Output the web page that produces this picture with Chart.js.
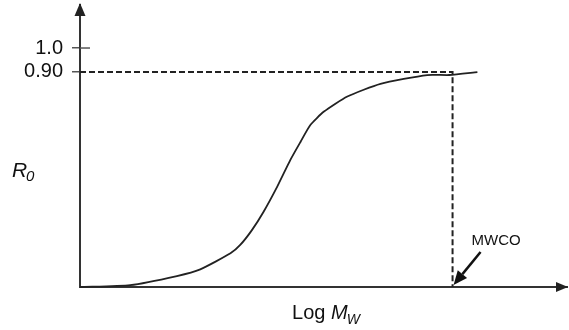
<!DOCTYPE html>
<html>
<head>
<meta charset="utf-8">
<script src="https://cdn.jsdelivr.net/npm/chart.js@4.4.0/dist/chart.umd.min.js"></script>
<style>
  body { margin: 0; background: #fff; }
</style>
</head>
<body>
<canvas id="myChart" width="569" height="330"></canvas>
<script>
// curve (x in arbitrary units of Log Mw, 0..100)
const logMw = [0, 10.3, 19.9, 24.7, 30.9, 32.9, 35.3, 37.7, 40.5, 43.2, 45.3, 47.3, 50.1, 54.9, 61.7, 71.3, 75.8, 81.6];
const r0 = [0, 0.008, 0.046, 0.074, 0.141, 0.176, 0.238, 0.315, 0.42, 0.532, 0.608, 0.678, 0.734, 0.797, 0.850, 0.887, 0.887, 0.899];
const yTicks = [0.9, 1.0];
const yTickLabels = ["0.90", "1.0"];
const level = 0.9;     // retention level
const mwco = 76.5;     // cut-off position on x

const FONT = "'Liberation Sans', Arial, Helvetica, sans-serif";

const extras = {
  id: 'extras',
  afterDraw(chart) {
    const ctx = chart.ctx;
    const ca = chart.chartArea;
    const xs = chart.scales.x, ys = chart.scales.y;
    ctx.save();
    ctx.fillStyle = '#222';
    ctx.strokeStyle = '#333';

    // arrow heads on axes
    ctx.beginPath();
    ctx.moveTo(ca.left, ca.top - 2);
    ctx.lineTo(ca.left - 5.5, ca.top + 11);
    ctx.lineTo(ca.left + 5.5, ca.top + 11);
    ctx.closePath();
    ctx.fill();
    ctx.beginPath();
    ctx.moveTo(ca.right + 1, ca.bottom);
    ctx.lineTo(ca.right - 11, ca.bottom - 5);
    ctx.lineTo(ca.right - 11, ca.bottom + 5);
    ctx.closePath();
    ctx.fill();

    // tick at 1.0 crosses the axis
    const y1 = ys.getPixelForValue(1.0);
    ctx.lineWidth = 1.5;
    ctx.strokeStyle = '#555';
    ctx.beginPath();
    ctx.moveTo(ca.left, y1);
    ctx.lineTo(ca.left + 10, y1);
    ctx.stroke();

    // axis titles
    ctx.fillStyle = '#111';
    ctx.textBaseline = 'alphabetic';
    ctx.textAlign = 'left';
    ctx.font = 'italic 21px ' + FONT;
    ctx.fillText('R', 12, 177);
    ctx.font = 'italic 15px ' + FONT;
    ctx.fillText('0', 26, 181);

    ctx.font = '20px ' + FONT;
    const w1 = ctx.measureText('Log ').width;
    ctx.font = 'italic 20px ' + FONT;
    const w2 = ctx.measureText('M').width;
    ctx.font = 'italic 14px ' + FONT;
    const w3 = ctx.measureText('W').width;
    let tx = (ca.left + ca.right) / 2 + 3 - (w1 + w2 + w3) / 2;
    ctx.font = '20px ' + FONT;
    ctx.fillText('Log ', tx, 319);
    ctx.font = 'italic 20px ' + FONT;
    ctx.fillText('M', tx + w1, 319);
    ctx.font = 'italic 14px ' + FONT;
    ctx.fillText('W', tx + w1 + w2 - 1, 324);

    // MWCO label and arrow
    const mx = xs.getPixelForValue(mwco);
    const my = ys.getPixelForValue(0);
    ctx.font = '15px ' + FONT;
    ctx.fillText('MWCO', mx + 19, 245);
    ctx.strokeStyle = '#111';
    ctx.fillStyle = '#111';
    ctx.lineWidth = 2.5;
    const sx = mx + 28, sy = 252;
    const ang = Math.atan2(my - 2 - sy, mx + 1 - sx);
    const tipX = mx + 1, tipY = my - 2;
    const bx = tipX - 14 * Math.cos(ang), by = tipY - 14 * Math.sin(ang);
    ctx.beginPath();
    ctx.moveTo(sx, sy);
    ctx.lineTo(bx, by);
    ctx.stroke();
    ctx.beginPath();
    ctx.moveTo(tipX, tipY);
    ctx.lineTo(bx + 6 * Math.sin(ang), by - 6 * Math.cos(ang));
    ctx.lineTo(bx - 6 * Math.sin(ang), by + 6 * Math.cos(ang));
    ctx.closePath();
    ctx.fill();
    ctx.restore();
  }
};

const myChart = new Chart("myChart", {
  type: "scatter",
  data: {
    datasets: [{
      label: 'R0',
      data: logMw.map((x, i) => ({ x: x, y: r0[i] })),
      showLine: true,
      borderColor: '#222',
      borderWidth: 1.8,
      pointRadius: 0,
      tension: 0.2,
      clip: false
    }, {
      label: 'MWCO',
      data: [{ x: 0, y: level }, { x: mwco, y: level }, { x: mwco, y: 0 }],
      showLine: true,
      borderColor: '#222',
      borderWidth: 2,
      borderDash: [6, 3],
      pointRadius: 0,
      clip: false
    }]
  },
  options: {
    responsive: false,
    animation: false,
    layout: { padding: { top: 5, right: 2, left: 0, bottom: 0 } },
    plugins: {
      legend: { display: false },
      tooltip: { enabled: false }
    },
    scales: {
      x: {
        type: 'linear',
        min: 0,
        max: 100,
        ticks: { display: false },
        grid: { display: false },
        border: { display: true, color: '#333', width: 2 },
        afterFit: function (scale) {
          scale.height = 43;
          scale.paddingLeft = 0;
          scale.paddingRight = 0;
        }
      },
      y: {
        type: 'linear',
        min: 0,
        max: 1.18,
        afterBuildTicks: function (scale) {
          scale.ticks = yTicks.map(v => ({ value: v }));
        },
        ticks: {
          padding: 9,
          color: '#111',
          font: { family: FONT, size: 20 },
          callback: function (value) {
            const i = yTicks.indexOf(value);
            return i >= 0 ? yTickLabels[i] : '';
          }
        },
        grid: {
          drawOnChartArea: false,
          drawTicks: true,
          tickLength: 8,
          color: '#555',
          lineWidth: 1.5
        },
        border: { display: true, color: '#333', width: 2 },
        afterFit: function (scale) {
          scale.width = 80;
          scale.paddingTop = 0;
          scale.paddingBottom = 0;
        }
      }
    }
  },
  plugins: [extras]
});
</script>
</body>
</html>
